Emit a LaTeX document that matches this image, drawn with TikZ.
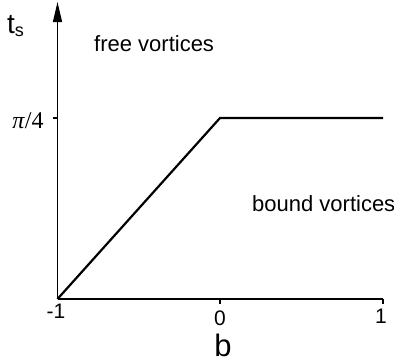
\documentclass[tikz,border=0pt]{standalone}
\usepackage{fontspec}
\setmainfont{Liberation Sans}
\newfontfamily\seriffam{Liberation Serif}
\usetikzlibrary{arrows.meta}
\begin{document}
\begin{tikzpicture}[x=1pt,y=-1pt,
  axisline/.style={line width=1.4pt},
  curveline/.style={line width=2.2pt,line join=miter},
  lbl/.style={inner sep=0pt,font=\fontsize{22}{24}\selectfont},
  numlbl/.style={inner sep=0pt,font=\fontsize{21}{24}\selectfont}]
\useasboundingbox (0,0) rectangle (394,362);
\coordinate (O) at (57.5,299);
\coordinate (top) at (57.5,2);
\coordinate (xend) at (383,299);
\coordinate (K) at (220,118);
\coordinate (E) at (383,118);
\coordinate (t0) at (220,299);
\coordinate (t0b) at (220,304);
\coordinate (t1b) at (383,304);
\coordinate (tpl) at (53,118);
\coordinate (tpr) at (57.5,118);
% axes
\draw[axisline,-{Triangle[width=9pt,length=20pt]}] (O) -- (top);
\draw[axisline] (O) -- (xend);
\draw[axisline] (t0) -- (t0b);
\draw[axisline] (xend) -- (t1b);
\draw[axisline] (tpl) -- (tpr);
% curve
\draw[curveline] (O) -- (K) -- (E);
% labels
\node[inner sep=0pt,anchor=base west,font=\fontsize{28}{30}\selectfont] (ts) at (7,33) {t\raisebox{-3pt}{\fontsize{18}{20}\selectfont s}};
\node[inner sep=0pt,anchor=base,font=\fontsize{24}{26}\selectfont\seriffam] (pi) at (28,128) {\textit{π}/4};
\node[lbl,anchor=base west] (free) at (94,51) {free vortices};
\node[lbl,anchor=base west] (bound) at (252,211) {bound vortices};
\node[numlbl] (m1) at (56,311) {-1};
\node[numlbl] (z) at (220,318) {0};
\node[numlbl] (one) at (381,316) {1};
\node[inner sep=0pt,anchor=base,font=\fontsize{31}{33}\selectfont] (b) at (223,356) {b};
\end{tikzpicture}
\end{document}
